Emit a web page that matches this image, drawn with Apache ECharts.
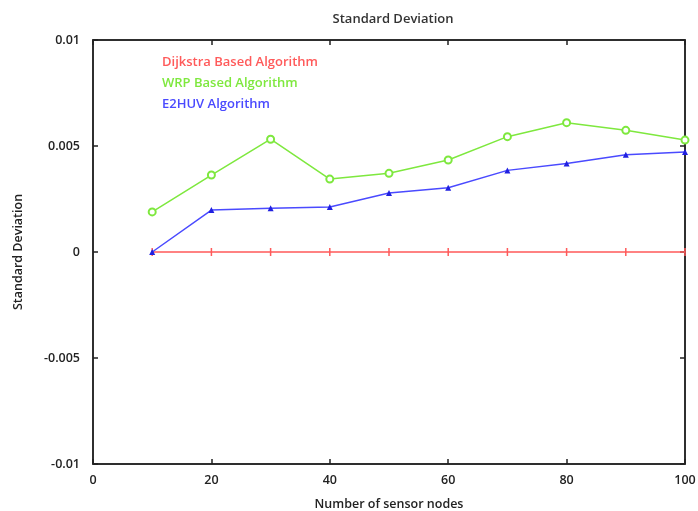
<!DOCTYPE html>
<html lang="en">
<head>
    <meta charset="UTF-8">
    <title>Standard Deviation</title>
    <script src="https://cdn.jsdelivr.net/npm/echarts@6/dist/echarts.min.js"></script>
</head>
<body style="margin:0;background:#fff">
<div id="main" style="width:698px;height:511px"></div>
<script>
    // data
    var nodes = [10, 20, 30, 40, 50, 60, 70, 80, 90, 100];
    var dijkstra = [0, 0, 0, 0, 0, 0, 0, 0, 0, 0];
    var wrp = [0.00189, 0.00363, 0.00532, 0.00344, 0.00371, 0.00434, 0.00544, 0.0061, 0.00574, 0.00528];
    var e2huv = [0, 0.00198, 0.00206, 0.00212, 0.00278, 0.00303, 0.00385, 0.00418, 0.00459, 0.00472];
    var names = ['Dijkstra Based Algorithm', 'WRP Based Algorithm', 'E2HUV Algorithm'];
    var colors = ['#ff5a5a', '#7ee83e', '#4a4aff'];

    function pairs(arr) {
        var out = [];
        for (var i = 0; i < nodes.length; i++) {
            out.push([nodes[i], arr[i]]);
        }
        return out;
    }

    var font = 'Open Sans';
    var txt = {color: '#222', fontFamily: font, fontWeight: 600, fontSize: 12.5};
    var axisLine = {show: true, onZero: false, lineStyle: {color: '#222', width: 1.5}};
    var tick = {show: true, inside: true, length: 5, lineStyle: {color: '#222', width: 1.5}};

    var chart = echarts.init(document.getElementById('main'));
    var option = {
        animation: false,
        title: {
            text: 'Standard Deviation',
            left: 388, top: 8, textAlign: 'center',
            textStyle: {color: '#333', fontFamily: font, fontWeight: 600, fontSize: 13}
        },
        legend: {
            orient: 'vertical',
            left: 152, top: 51,
            itemWidth: 0, itemHeight: 0, itemGap: 8,
            icon: 'none',
            data: names.map(function (n, i) {
                return {name: n, icon: 'none', textStyle: {color: colors[i], fontFamily: font, fontWeight: 600, fontSize: 13}};
            })
        },
        grid: {left: 93, right: 13, top: 40, bottom: 47, outerBoundsMode: 'none',
            show: true, borderColor: '#222', borderWidth: 1.5},
        xAxis: [{
            type: 'value', min: 0, max: 100, interval: 20,
            name: 'Number of sensor nodes', nameLocation: 'middle', nameGap: 34,
            nameTextStyle: txt,
            axisLine: axisLine, axisTick: tick,
            axisLabel: Object.assign({margin: 10}, txt),
            splitLine: {show: false}
        }, {
            type: 'value', min: 0, max: 100, interval: 20, position: 'top',
            axisLine: axisLine, axisTick: tick, axisLabel: {show: false}, splitLine: {show: false}
        }],
        yAxis: [{
            type: 'value', min: -0.01, max: 0.01, interval: 0.005,
            name: 'Standard Deviation', nameLocation: 'middle', nameGap: 68,
            nameTextStyle: txt,
            axisLine: axisLine, axisTick: tick,
            axisLabel: Object.assign({margin: 13}, txt),
            splitLine: {show: false}
        }, {
            type: 'value', min: -0.01, max: 0.01, interval: 0.005, position: 'right',
            axisLine: axisLine, axisTick: tick, axisLabel: {show: false}, splitLine: {show: false}
        }],
        series: [
            {
                name: names[0], type: 'line', data: pairs(dijkstra),
                symbol: 'rect', symbolSize: [1.5, 8],
                lineStyle: {color: colors[0], width: 1.5},
                itemStyle: {color: colors[0]}
            },
            {
                name: names[1], type: 'line', data: pairs(wrp),
                symbol: 'emptyCircle', symbolSize: 7,
                lineStyle: {color: colors[1], width: 1.5},
                itemStyle: {color: colors[1], borderWidth: 1}
            },
            {
                name: names[2], type: 'line', data: pairs(e2huv),
                symbol: 'triangle', symbolSize: 6,
                lineStyle: {color: colors[2], width: 1.5},
                itemStyle: {color: '#2020e0'}
            }
        ]
    };
    chart.setOption(option);
</script>
</body>
</html>
